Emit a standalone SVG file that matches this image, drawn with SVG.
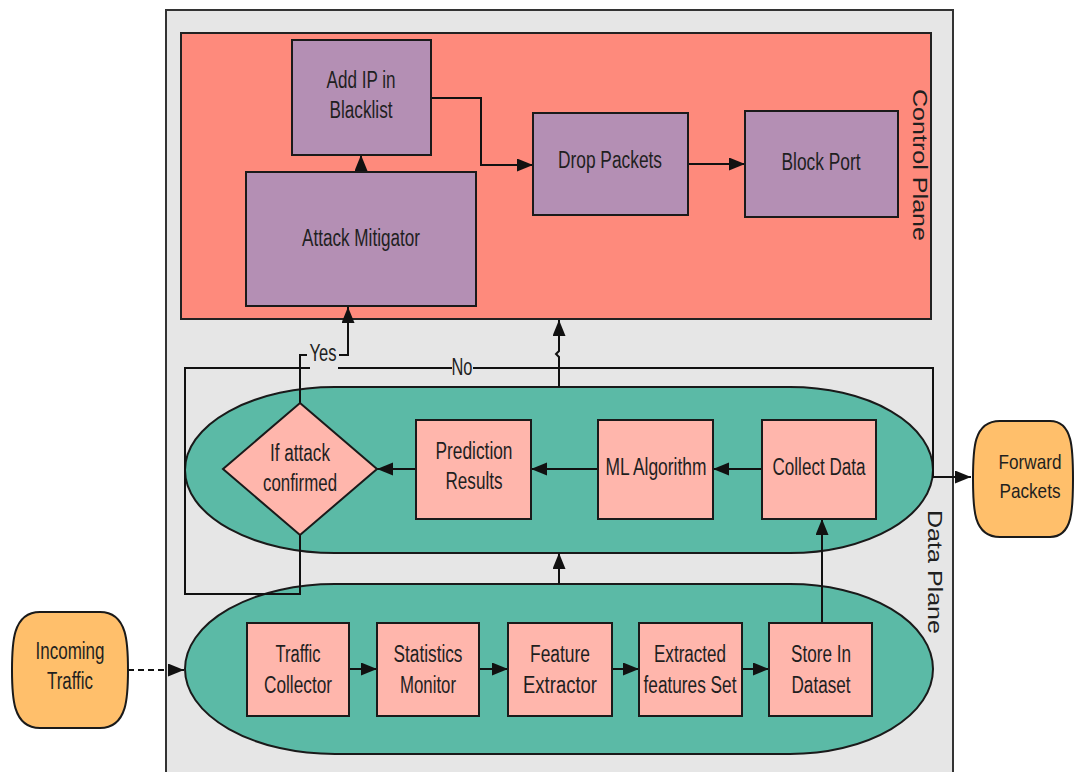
<svg xmlns="http://www.w3.org/2000/svg" width="1075" height="772" viewBox="0 0 1075 772">
<defs>
<marker id="ah" markerUnits="userSpaceOnUse" markerWidth="18" markerHeight="14" refX="16" refY="6.5" orient="auto">
<path d="M0,0 L16,6.5 L0,13 Z" fill="#111"/>
</marker>
<style>
.t{font-family:"Liberation Sans",Arial,sans-serif;font-size:23px;fill:#1f1f1f;text-anchor:middle}
.box{stroke:#1a1a1a;stroke-width:2}
.pur{fill:#b48fb4}
.pink{fill:#ffb6ac}
.teal{fill:#5bbaa6;stroke:#1a1a1a;stroke-width:2}
.org{fill:#ffbf6b;stroke:#1a1a1a;stroke-width:2}
.ln{fill:none;stroke:#111;stroke-width:2}
</style>
</defs>
<rect width="1075" height="772" fill="#fff"/>
<g id="outer"><rect x="166" y="10" width="787" height="800" fill="#e6e6e6" stroke="#333" stroke-width="2"/></g>
<g id="control-plane">
<rect x="181" y="33" width="750" height="286" fill="#fe8a7c" stroke="#222" stroke-width="2"/>
<text class="t" transform="translate(913,165) rotate(90)" textLength="152" lengthAdjust="spacingAndGlyphs" style="font-size:20px">Control Plane</text>
</g>
<g id="data-plane-upper"><path class="teal" d="M335,387 H790 A143,83 0 0 1 790,553 H335 A150,83 0 0 1 335,387 Z"/></g>
<g id="data-plane-lower"><path class="teal" d="M335,584 H790 A143,85 0 0 1 790,754 H335 A150,85 0 0 1 335,584 Z"/></g>
<g id="data-plane-label"><text class="t" transform="translate(928,572) rotate(90)" textLength="124" lengthAdjust="spacingAndGlyphs" style="font-size:20px">Data Plane</text></g>

<g id="connectors">
<path class="ln" d="M300,535 V594 H185 V368 H310"/>
<path class="ln" d="M338,368 H452 M473,368 H933 V477 H953" />
<path class="ln" d="M953,477 H971" marker-end="url(#ah)"/>
<path class="ln" d="M300,403 V355 H307 M339,355 H348 V307" marker-end="url(#ah)"/>
<path class="ln" d="M559,387 V357 L556,354 L559,351 V320" marker-end="url(#ah)"/>
<path class="ln" d="M361,172 V155" marker-end="url(#ah)"/>
<path class="ln" d="M431,98 H481 V165 H533" marker-end="url(#ah)"/>
<path class="ln" d="M688,164 H745" marker-end="url(#ah)"/>
<path class="ln" d="M762,469 H713" marker-end="url(#ah)"/>
<path class="ln" d="M598,469 H531" marker-end="url(#ah)"/>
<path class="ln" d="M416,469 H377" marker-end="url(#ah)"/>
<path class="ln" d="M822,623 V519" marker-end="url(#ah)"/>
<path class="ln" d="M559,584 V553" marker-end="url(#ah)"/>
<path class="ln" d="M349,669 H377" marker-end="url(#ah)"/>
<path class="ln" d="M479,669 H508" marker-end="url(#ah)"/>
<path class="ln" d="M612,669 H639" marker-end="url(#ah)"/>
<path class="ln" d="M742,669 H769" marker-end="url(#ah)"/>
<path class="ln" d="M128,670 H168" stroke-dasharray="6,4"/>
<path class="ln" d="M168,670 H184" marker-end="url(#ah)"/>
<text class="t" x="323" y="361" textLength="27" lengthAdjust="spacingAndGlyphs">Yes</text>
<text class="t" x="462" y="375" textLength="21" lengthAdjust="spacingAndGlyphs">No</text>
</g>

<g id="add-ip"><rect class="box pur" x="292" y="40" width="139" height="115"/>
<text class="t" x="361" y="88" textLength="69" lengthAdjust="spacingAndGlyphs">Add IP in</text>
<text class="t" x="361" y="118" textLength="63" lengthAdjust="spacingAndGlyphs">Blacklist</text></g>
<g id="attack-mitigator"><rect class="box pur" x="246" y="172" width="230" height="134"/>
<text class="t" x="361" y="246" textLength="118" lengthAdjust="spacingAndGlyphs">Attack Mitigator</text></g>
<g id="drop-packets"><rect class="box pur" x="533" y="113" width="155" height="102"/>
<text class="t" x="610" y="168" textLength="104" lengthAdjust="spacingAndGlyphs">Drop Packets</text></g>
<g id="block-port"><rect class="box pur" x="745" y="111" width="153" height="106"/>
<text class="t" x="821" y="170" textLength="79" lengthAdjust="spacingAndGlyphs">Block Port</text></g>

<g id="if-attack"><path class="box pink" d="M300,403 L377,469 L300,535 L223,469 Z"/>
<text class="t" x="300" y="461" textLength="60" lengthAdjust="spacingAndGlyphs">If attack</text>
<text class="t" x="300" y="491" textLength="74" lengthAdjust="spacingAndGlyphs">confirmed</text></g>
<g id="prediction"><rect class="box pink" x="416" y="420" width="115" height="99"/>
<text class="t" x="474" y="459" textLength="77" lengthAdjust="spacingAndGlyphs">Prediction</text>
<text class="t" x="474" y="489" textLength="57" lengthAdjust="spacingAndGlyphs">Results</text></g>
<g id="ml"><rect class="box pink" x="598" y="420" width="115" height="99"/>
<text class="t" x="656" y="475" textLength="101" lengthAdjust="spacingAndGlyphs">ML Algorithm</text></g>
<g id="collect"><rect class="box pink" x="762" y="420" width="114" height="99"/>
<text class="t" x="819" y="475" textLength="93" lengthAdjust="spacingAndGlyphs">Collect Data</text></g>

<g id="traffic-collector"><rect class="box pink" x="247" y="623" width="102" height="93"/>
<text class="t" x="298" y="662" textLength="45" lengthAdjust="spacingAndGlyphs">Traffic</text>
<text class="t" x="298" y="693" textLength="68" lengthAdjust="spacingAndGlyphs">Collector</text></g>
<g id="statistics"><rect class="box pink" x="377" y="623" width="102" height="93"/>
<text class="t" x="428" y="662" textLength="69" lengthAdjust="spacingAndGlyphs">Statistics</text>
<text class="t" x="428" y="693" textLength="56" lengthAdjust="spacingAndGlyphs">Monitor</text></g>
<g id="feature-extractor"><rect class="box pink" x="508" y="623" width="104" height="93"/>
<text class="t" x="560" y="662" textLength="60" lengthAdjust="spacingAndGlyphs">Feature</text>
<text class="t" x="560" y="693" textLength="74" lengthAdjust="spacingAndGlyphs">Extractor</text></g>
<g id="extracted"><rect class="box pink" x="639" y="623" width="103" height="93"/>
<text class="t" x="690" y="662" textLength="72" lengthAdjust="spacingAndGlyphs">Extracted</text>
<text class="t" x="690" y="693" textLength="93" lengthAdjust="spacingAndGlyphs">features Set</text></g>
<g id="store"><rect class="box pink" x="769" y="623" width="103" height="93"/>
<text class="t" x="821" y="662" textLength="60" lengthAdjust="spacingAndGlyphs">Store In</text>
<text class="t" x="821" y="693" textLength="59" lengthAdjust="spacingAndGlyphs">Dataset</text></g>

<g id="incoming"><path class="org" d="M40,612 H100 C128,612 128,645 128,670 C128,695 128,728 100,728 H40 C12,728 12,695 12,670 C12,645 12,612 40,612 Z"/>
<text class="t" x="70" y="659" textLength="69" lengthAdjust="spacingAndGlyphs">Incoming</text>
<text class="t" x="70" y="689" textLength="46" lengthAdjust="spacingAndGlyphs">Traffic</text></g>
<g id="forward"><path class="org" d="M1000,421 H1050 C1073,421 1073,450 1073,479 C1073,508 1073,537 1050,537 H1000 C973,537 973,508 973,479 C973,450 973,421 1000,421 Z"/>
<text class="t" x="1030" y="469" textLength="63" lengthAdjust="spacingAndGlyphs" style="font-size:21px">Forward</text>
<text class="t" x="1030" y="498" textLength="61" lengthAdjust="spacingAndGlyphs" style="font-size:21px">Packets</text></g>
</svg>
